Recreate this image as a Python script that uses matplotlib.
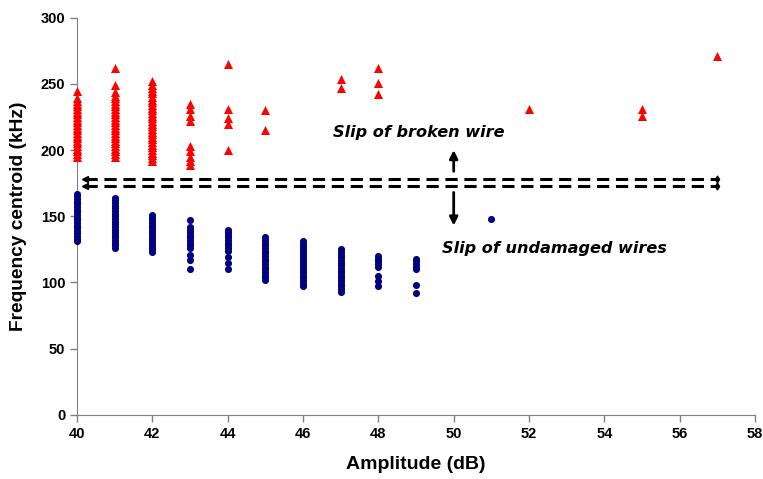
import matplotlib.pyplot as plt

# amplitude (dB) of each column and frequency centroid (kHz)
red_amp = [40, 41, 42, 43, 44, 45, 47, 48, 52, 55, 57]
red_fc = [
    [245, 239, 237, 235, 233, 231, 229, 227, 225, 223, 221, 219, 217, 215,
     213, 211, 209, 207, 205, 203, 201, 199, 197, 195],
    [262, 249, 244, 241, 239, 237, 235, 233, 231, 229, 227, 225, 223, 221,
     219, 217, 215, 213, 211, 209, 207, 205, 203, 201, 199, 197, 195],
    [252, 249, 247, 245, 243, 240, 238, 236, 234, 232, 230, 228, 226, 224,
     222, 220, 218, 216, 214, 212, 210, 208, 206, 204, 202, 200, 198, 196,
     194, 192],
    [235, 231, 226, 222, 203, 199, 195, 192, 189],
    [265, 231, 224, 220, 200],
    [230, 215],
    [254, 247],
    [262, 251, 242],
    [231],
    [231, 226],
    [271],
]

blue_amp = [40, 41, 42, 43, 44, 45, 46, 47, 48, 49, 51]
blue_fc = [
    [167, 165, 163, 161, 159, 157, 155, 153, 151, 149, 147, 145, 143, 141,
     139, 137, 135, 133, 131],
    [164, 162, 160, 158, 156, 154, 152, 150, 148, 146, 144, 142, 140, 138,
     136, 134, 132, 130, 128, 126],
    [151, 149, 147, 145, 143, 141, 139, 137, 135, 133, 131, 129, 127, 125, 123],
    [147, 142, 140, 138, 136, 134, 132, 130, 128, 126, 121, 117, 110],
    [140, 138, 136, 134, 132, 130, 128, 126, 124, 119, 115, 110],
    [134, 132, 130, 128, 126, 124, 122, 120, 118, 116, 114, 112, 110, 108,
     106, 104, 102],
    [131, 129, 127, 125, 123, 121, 119, 117, 115, 113, 111, 109, 107, 105,
     103, 101, 99, 97],
    [125, 123, 121, 119, 117, 115, 113, 111, 109, 107, 105, 103, 101, 99,
     97, 95, 93],
    [120, 118, 116, 114, 112, 105, 101, 97],
    [118, 116, 114, 112, 110, 98, 92],
    [148],
]

x_ticks = list(range(40, 59, 2))
y_ticks = list(range(0, 301, 50))

# threshold band and arrows
band = [178, 173]
band_x = [40.2, 57]
up_arrow = [184, 200]
down_arrow = [168, 143]

rx, ry = [], []
for a, vals in zip(red_amp, red_fc):
    rx += [a] * len(vals)
    ry += vals
bx, by = [], []
for a, vals in zip(blue_amp, blue_fc):
    bx += [a] * len(vals)
    by += vals

fig = plt.figure(figsize=(7.63, 4.79), dpi=100)
ax = fig.add_axes([0.101, 0.134, 0.8885, 0.829])

ax.scatter(rx, ry, marker='^', s=42, color='#FF0000', linewidths=0, zorder=3,
           clip_on=False)
ax.scatter(bx, by, marker='o', s=26, color='#000080', linewidths=0, zorder=3,
           clip_on=False)

for yv in band:
    ax.plot(band_x, [yv, yv], color='black', lw=2.2, ls=(0, (4, 2.2)), zorder=2)
    ax.plot(band_x[0], yv, marker='<', ms=4, color='black', zorder=2)
    ax.plot(band_x[1], yv, marker='d', ms=3.5, color='black', zorder=2)

ax.annotate('', xy=(50, up_arrow[1]), xytext=(50, up_arrow[0]),
            arrowprops=dict(arrowstyle='-|>', color='black', lw=2,
                            mutation_scale=12, shrinkA=0, shrinkB=0))
ax.annotate('', xy=(50, down_arrow[1]), xytext=(50, down_arrow[0]),
            arrowprops=dict(arrowstyle='-|>', color='black', lw=2,
                            mutation_scale=12, shrinkA=0, shrinkB=0))

ax.text(46.8, 213, 'Slip of broken wire', fontsize=11.6, fontweight='bold',
        style='italic', va='center', ha='left')
ax.text(49.7, 126, 'Slip of undamaged wires', fontsize=11.6, fontweight='bold',
        style='italic', va='center', ha='left')

ax.set_xlim(40, 58)
ax.set_ylim(0, 300)
ax.set_xticks(x_ticks)
ax.set_yticks(y_ticks)
ax.spines['top'].set_visible(False)
ax.spines['right'].set_visible(False)
for s in ['left', 'bottom']:
    ax.spines[s].set_color('#808080')
ax.tick_params(direction='out', length=5, color='#808080', width=1)
for lab in ax.get_xticklabels() + ax.get_yticklabels():
    lab.set_family(['Liberation Sans Narrow', 'Liberation Sans', 'DejaVu Sans'])
    lab.set_fontweight('bold')
    lab.set_fontsize(10.5)

ax.set_xlabel('Amplitude (dB)', fontsize=14, fontweight='bold',
              family=['Liberation Sans', 'DejaVu Sans'], labelpad=11)
ax.set_ylabel('Frequency centroid (kHz)', fontsize=13.8, fontweight='bold',
              family=['Liberation Sans', 'DejaVu Sans'], labelpad=10)

fig.savefig('out.png', dpi=100)
